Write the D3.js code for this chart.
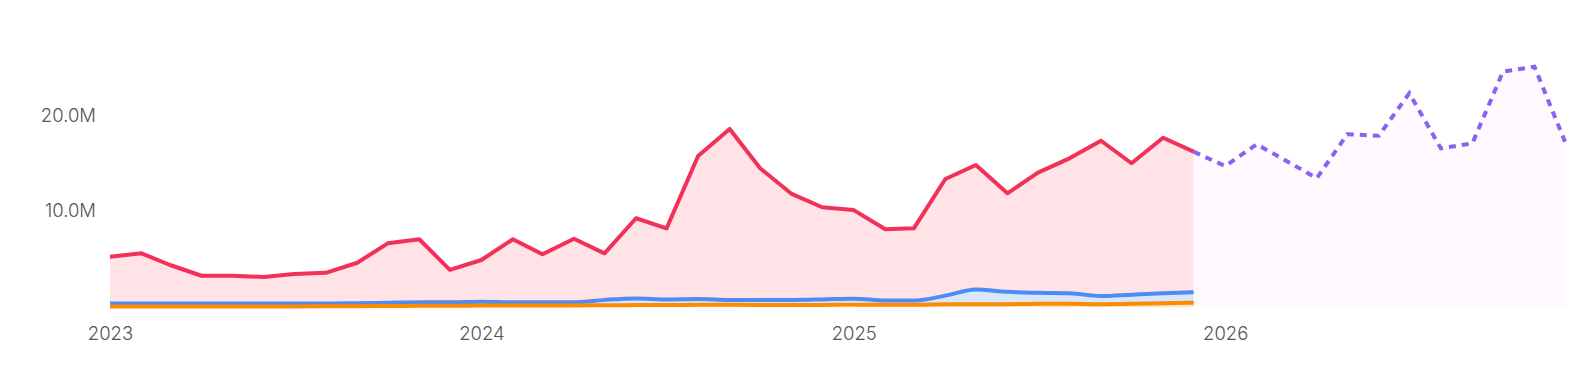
<!DOCTYPE html>
<html>
<head>
<meta charset="utf-8">
<script src="https://cdn.jsdelivr.net/npm/d3@7"></script>
<style>
  html, body { margin: 0; padding: 0; background: #ffffff; }
  svg { display: block; }
  .lbl { font-family: "Inter", "Lato", "Noto Sans", sans-serif; font-weight: 300; font-size: 18.5px; fill: #555555; }
</style>
</head>
<body>
<svg id="chart" width="1582" height="382"></svg>
<script>
// ---- data ----
const months = [
  "2023-01","2023-02","2023-03","2023-04","2023-05","2023-06","2023-07","2023-08","2023-09","2023-10","2023-11","2023-12",
  "2024-01","2024-02","2024-03","2024-04","2024-05","2024-06","2024-07","2024-08","2024-09","2024-10","2024-11","2024-12",
  "2025-01","2025-02","2025-03","2025-04","2025-05","2025-06","2025-07","2025-08","2025-09","2025-10","2025-11","2025-12"
];
const redValues = [
  5.29, 5.65, 4.42, 3.29, 3.30, 3.16, 3.47, 3.60, 4.66, 6.70, 7.13, 3.90,
  4.95, 7.13, 5.55, 7.19, 5.65, 9.34, 8.28, 15.90, 18.74, 14.60, 11.90, 10.50,
  10.20, 8.18, 8.28, 13.47, 14.95, 11.97, 14.14, 15.65, 17.50, 15.13, 17.82, 16.35
];
const blueValues = [
  0.38, 0.38, 0.37, 0.36, 0.36, 0.37, 0.36, 0.36, 0.40, 0.45, 0.50, 0.50,
  0.55, 0.50, 0.50, 0.50, 0.75, 0.90, 0.80, 0.85, 0.75, 0.75, 0.75, 0.80,
  0.88, 0.68, 0.68, 1.20, 1.85, 1.60, 1.50, 1.45, 1.15, 1.30, 1.45, 1.55
];
const orangeValues = [
  0.05, 0.05, 0.05, 0.05, 0.05, 0.06, 0.06, 0.07, 0.08, 0.10, 0.12, 0.12,
  0.15, 0.15, 0.15, 0.16, 0.18, 0.20, 0.20, 0.24, 0.24, 0.22, 0.20, 0.22,
  0.25, 0.24, 0.24, 0.28, 0.30, 0.30, 0.35, 0.34, 0.30, 0.33, 0.40, 0.45
];
const forecastMonths = [
  "2025-12","2026-01","2026-02","2026-03","2026-04","2026-05","2026-06",
  "2026-07","2026-08","2026-09","2026-10","2026-11","2026-12"
];
const forecastValues = [
  16.35, 14.84, 17.13, 15.45, 13.55, 18.18, 18.03, 22.50, 16.70, 17.23, 24.77, 25.30, 17.40
];
const yTickValues = [10, 20];
const xTickYears = ["2023", "2024", "2025", "2026"];

// ---- scales ----
const parse = d3.timeParse("%Y-%m");
const svg = d3.select("#chart");

const x = d3.scaleTime()
  .domain([parse("2023-01"), parse("2026-12")])
  .range([110, 1565]);
const y = d3.scaleLinear()
  .domain([0, 25])
  .range([307, 69.5]);

const hist = months.map((m, i) => ({ d: parse(m), r: redValues[i], b: blueValues[i], o: orangeValues[i] }));
const fc = forecastMonths.map((m, i) => ({ d: parse(m), v: forecastValues[i] }));

// ---- forecast area ----
svg.append("path")
  .datum(fc)
  .attr("fill", "#fdf9ff")
  .attr("d", d3.area().x(d => x(d.d)).y0(y(0)).y1(d => y(d.v)));

// ---- red area ----
svg.append("path")
  .datum(hist)
  .attr("fill", "#ffe3e6")
  .attr("d", d3.area().x(d => x(d.d)).y0(y(0)).y1(d => y(d.r)));

// ---- blue area ----
svg.append("path")
  .datum(hist)
  .attr("fill", "#d8e7fc")
  .attr("d", d3.area().curve(d3.curveMonotoneX).x(d => x(d.d)).y0(y(0)).y1(d => y(d.b)));

// ---- orange area ----
svg.append("path")
  .datum(hist)
  .attr("fill", "#ffe7c7")
  .attr("d", d3.area().curve(d3.curveMonotoneX).x(d => x(d.d)).y0(y(0)).y1(d => y(d.o)));

// ---- lines ----
svg.append("path")
  .datum(hist)
  .attr("fill", "none")
  .attr("stroke", "#f2315a")
  .attr("stroke-width", 4)
  .attr("stroke-linejoin", "round")
  .attr("d", d3.line().x(d => x(d.d)).y(d => y(d.r)));

svg.append("path")
  .datum(hist)
  .attr("fill", "none")
  .attr("stroke", "#4d8cf2")
  .attr("stroke-width", 4)
  .attr("stroke-linejoin", "round")
  .attr("d", d3.line().curve(d3.curveMonotoneX).x(d => x(d.d)).y(d => y(d.b)));

svg.append("path")
  .datum(hist)
  .attr("fill", "none")
  .attr("stroke", "#ff8a00")
  .attr("stroke-width", 4)
  .attr("stroke-linejoin", "round")
  .attr("d", d3.line().curve(d3.curveMonotoneX).x(d => x(d.d)).y(d => y(d.o)));

svg.append("path")
  .datum(fc)
  .attr("fill", "none")
  .attr("stroke", "#8b62ee")
  .attr("stroke-width", 4)
  .attr("stroke-dasharray", "7,6")
  .attr("d", d3.line().x(d => x(d.d)).y(d => y(d.v)));

// ---- axes ----
const yAxis = svg.append("g")
  .attr("transform", "translate(96,0)")
  .call(d3.axisLeft(y).tickValues(yTickValues).tickSize(0).tickPadding(0)
    .tickFormat(d => d3.format(".1f")(d) + "M"));
yAxis.select(".domain").remove();
yAxis.selectAll("text").attr("class", "lbl").attr("fill", null).attr("dy", "0.32em")
  .attr("transform", "translate(0,-1.5)");

const xAxis = svg.append("g")
  .attr("transform", "translate(0,307)")
  .call(d3.axisBottom(x).tickValues(xTickYears.map(s => d3.timeParse("%Y")(s))).tickSize(0).tickPadding(0)
    .tickFormat(d3.timeFormat("%Y")));
xAxis.select(".domain").remove();
xAxis.selectAll("text").attr("class", "lbl").attr("fill", null).attr("dy", null).attr("y", 33);
</script>
</body>
</html>
